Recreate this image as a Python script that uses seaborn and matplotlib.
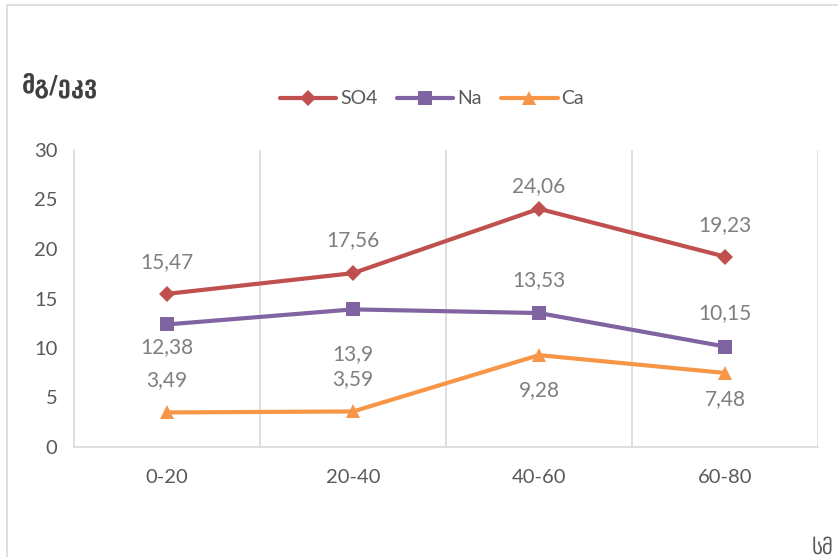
import matplotlib
matplotlib.use("Agg")
import matplotlib.pyplot as plt
import seaborn as sns
import pandas as pd
from matplotlib.lines import Line2D
from matplotlib.patches import Rectangle

categories = ["0-20", "20-40", "40-60", "60-80"]
so4 = [15.47, 17.56, 24.06, 19.23]
na = [12.38, 13.9, 13.53, 10.15]
ca = [3.49, 3.59, 9.28, 7.48]
series_names = ["SO4", "Na", "Ca"]
colors = {"SO4": "#C0504D", "Na": "#8064A2", "Ca": "#F79646"}
markers = {"SO4": "D", "Na": "s", "Ca": "^"}
msizes = {"SO4": 8, "Na": 10, "Ca": 10}
# label offsets in pixels (positive = above point)
label_off = {"SO4": [32, 33, 23, 32], "Na": [-23, -45, 33, 33], "Ca": [32, 32, -35, -26]}

rows = []
for name, vals in zip(series_names, [so4, na, ca]):
    for i, (c, v) in enumerate(zip(categories, vals)):
        rows.append({"depth": i, "cat": c, "value": v, "ion": name})
df = pd.DataFrame(rows)

sns.set_theme(style="white")
plt.rcParams['font.family'] = ['Lato', 'DejaVu Sans']

fig = plt.figure(figsize=(8.38, 5.57), dpi=100)
ax = fig.add_axes([74/838, 1-447/557, (818-74)/838, (447-150)/557])

sns.lineplot(data=df, x="depth", y="value", hue="ion", style="ion",
             palette=colors, markers=markers, dashes=False, linewidth=3,
             markeredgewidth=0, ax=ax, legend=False, sort=False)
for line, name in zip(ax.get_lines(), series_names):
    line.set_markersize(msizes[name])

ax.set_xlim(-0.5, 3.5)
ax.set_ylim(0, 30)
ax.set_yticks([0, 5, 10, 15, 20, 25, 30])
ax.set_xticks(range(4))
ax.set_xticklabels(categories)
ax.tick_params(axis='both', length=0, labelsize=14.5, colors="#595959")
ax.tick_params(axis='x', pad=16)
ax.tick_params(axis='y', pad=12)
ax.set_xlabel("")
ax.set_ylabel("")
for x in [0.5, 1.5, 2.5, 3.5]:
    ax.axvline(x, color="#d9d9d9", linewidth=1.2, zorder=0)
for s in ["top", "right"]:
    ax.spines[s].set_visible(False)
ax.spines["left"].set_color("#d9d9d9")
ax.spines["bottom"].set_color("#d9d9d9")
ax.spines["left"].set_linewidth(1.2)
ax.spines["bottom"].set_linewidth(1.2)

for name, vals in zip(series_names, [so4, na, ca]):
    for i, v in enumerate(vals):
        txt = ("%g" % v).replace(".", ",")
        ax.annotate(txt, (i, v), xytext=(0, label_off[name][i]*0.72),
                    textcoords="offset points", ha="center", va="center",
                    fontsize=15, color="#7f7f7f")

handles = [Line2D([0], [0], color=colors[n], marker=markers[n], markersize=msizes[n],
                  markeredgewidth=0, linewidth=3) for n in series_names]
fig.legend(handles, series_names, loc="center", bbox_to_anchor=(432/838, 1-99/557),
           ncol=3, frameon=False, fontsize=14, handlelength=2.9, handletextpad=0.2,
           columnspacing=1.0, labelcolor="#595959")

fig.text(22/838, 1-85/557, "მგ/ეკვ", fontsize=17, color="#404040", ha="left", va="center",
         family=['DejaVu Sans'], fontweight='bold')
fig.text(812/838, 1-548/557, "სმ", fontsize=15, color="#595959", ha="left", va="center",
         family=['DejaVu Sans'])

fig.patches.append(Rectangle((7/838, -0.1), 1.0, 1-5/557+0.1, transform=fig.transFigure,
                             fill=False, edgecolor="#d9d9d9", linewidth=1.2))

fig.savefig("out.png", dpi=100)
